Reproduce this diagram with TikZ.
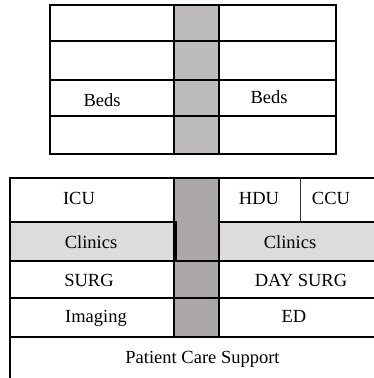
\documentclass[tikz,border=0pt]{standalone}
\usepackage{fontspec}
\setmainfont{Liberation Serif}
\definecolor{gtop}{HTML}{BEBCBB}
\definecolor{gbot}{HTML}{ABA8A7}
\definecolor{clin}{HTML}{DCDCDC}
\tikzset{
  wall/.style={draw=black, line width=2pt},
  thinwall/.style={draw=black!80, line width=1pt},
  lbl/.style={anchor=base, inner sep=0pt, font=\fontsize{18.5}{20}\selectfont}
}
\begin{document}
\begin{tikzpicture}[x=1pt,y=-1pt]
\useasboundingbox (0,0) rectangle (374,378);
\clip (0,0) rectangle (374,378);
% ---------- top block ----------
\fill[gtop] (174,5) rectangle (219,154);
\foreach \ya/\yb in {5/41,41/80,80/116,116/154}{
  \draw[wall] (50,\ya) rectangle (174,\yb);
  \draw[wall] (174,\ya) rectangle (219,\yb);
  \draw[wall] (219,\ya) rectangle (336,\yb);
}
\node[lbl] (bedsL) at (102,106) {Beds};
\node[lbl] (bedsR) at (269,103) {Beds};
% ---------- bottom block ----------
\fill[gbot] (174,178) rectangle (219,337);
\fill[clin] (10,222) rectangle (176,261);
\fill[clin] (219,222) rectangle (380,261);
% left column
\draw[wall] (10,178) rectangle (174,222);
\draw[wall] (10,222) rectangle (176,261);
\draw[wall] (10,261) rectangle (174,298);
\draw[wall] (10,298) rectangle (174,337);
% grey column
\draw[wall] (174,178) rectangle (219,261);
\draw[wall] (174,261) rectangle (219,298);
\draw[wall] (174,298) rectangle (219,337);
% right column
\draw[wall] (219,178) rectangle (380,222);
\draw[wall] (219,222) rectangle (380,261);
\draw[wall] (219,261) rectangle (380,298);
\draw[wall] (219,298) rectangle (380,337);
\draw[thinwall] (300,178) -- (300,222);
% patient care support
\draw[wall] (10,337) rectangle (380,390);
% labels
\node[lbl] (icu) at (79,204) {ICU};
\node[lbl] (hdu) at (259,204) {HDU};
\node[lbl] (ccu) at (331,204) {CCU};
\node[lbl] (clinL) at (91,248) {Clinics};
\node[lbl] (clinR) at (290,248) {Clinics};
\node[lbl] (surg) at (89,286) {SURG};
\node[lbl] (daysurg) at (301,286) {DAY SURG};
\node[lbl] (imaging) at (96,322) {Imaging};
\node[lbl] (ed) at (294,322) {ED};
\node[lbl] (pcs) at (202.5,363) {Patient Care Support};
\end{tikzpicture}
\end{document}
